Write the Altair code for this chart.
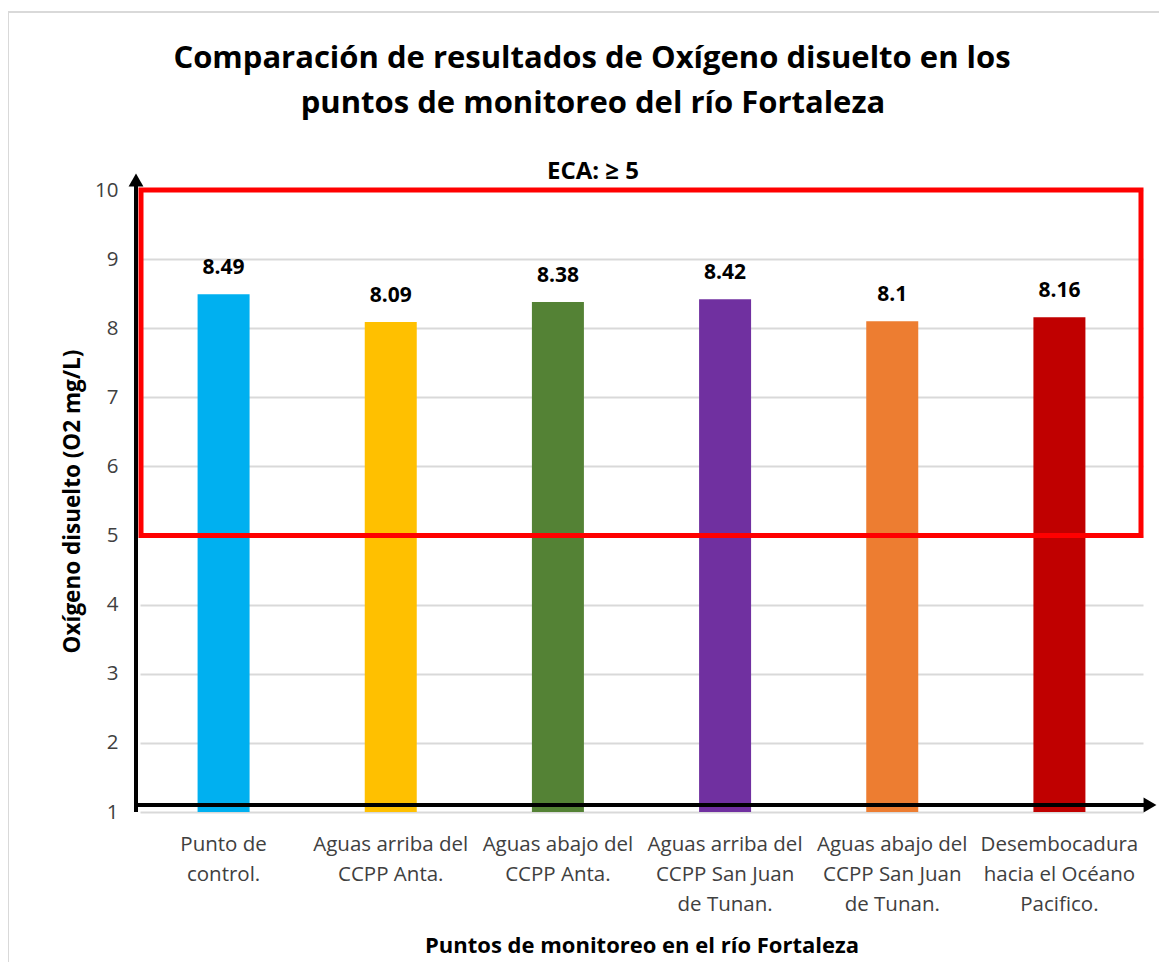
import altair as alt
import pandas as pd

title_lines = ["Comparación de resultados de Oxígeno disuelto en los", "puntos de monitoreo del río Fortaleza"]
subtitle = "ECA: ≥ 5"
categories = [
    "Punto de|control.",
    "Aguas arriba del|CCPP Anta.",
    "Aguas abajo del|CCPP Anta.",
    "Aguas arriba del|CCPP San Juan|de Tunan.",
    "Aguas abajo del|CCPP San Juan|de Tunan.",
    "Desembocadura|hacia el Océano|Pacifico.",
]
values = [8.49, 8.09, 8.38, 8.42, 8.1, 8.16]
colors = ["#00b0f0", "#ffc000", "#548235", "#7030a0", "#ed7d31", "#c00000"]
eca_min = 5
eca_max = 10
y_ticks = [1, 2, 3, 4, 5, 6, 7, 8, 9, 10]

df = pd.DataFrame({"cat": categories, "value": values, "color": colors, "base": [1] * len(values)})

W, H = 1003, 622
FONT = "Open Sans"

xenc = alt.X(
    "cat:N",
    sort=categories,
    scale=alt.Scale(paddingInner=0.69, paddingOuter=0.345),
    axis=alt.Axis(
        title="Puntos de monitoreo en el río Fortaleza",
        titleFont=FONT, titleFontSize=22, titleFontWeight="bold", titleColor="#000000",
        titleY=133, titleBaseline="middle",
        labelExpr="split(datum.value, '|')",
        labelFont=FONT, labelFontSize=20.5, labelColor="#404040", labelLineHeight=30,
        labelAngle=0, labelPadding=22, labelBaseline="top",
        ticks=False, domain=False, grid=False,
    ),
)
yscale = alt.Scale(domain=[1, 10], zero=False, nice=False)
yenc = alt.Y(
    "value:Q",
    scale=yscale,
    axis=alt.Axis(
        values=y_ticks,
        format="d",
        title="Oxígeno disuelto (O2 mg/L)",
        titleFont=FONT, titleFontSize=22.5, titleFontWeight="bold", titleColor="#000000",
        titleX=-68, titleY=311, titleBaseline="middle", titleAlign="center",
        labelFont=FONT, labelFontSize=20.5, labelColor="#404040", labelPadding=22,
        ticks=False, domain=False,
        grid=True, gridColor="#d9d9d9", gridWidth=2,
    ),
)

base = alt.Chart(df)

bars = base.mark_bar(size=52).encode(
    x=xenc,
    y=yenc,
    y2="base:Q",
    color=alt.Color("color:N", scale=None),
)

labels = base.mark_text(dy=-26, font=FONT, fontSize=21, fontWeight="bold", color="#000000").encode(
    x=alt.X("cat:N", sort=categories),
    y=alt.Y("value:Q", scale=yscale),
    text=alt.Text("value:Q"),
)

eca_df = pd.DataFrame({"lo": [eca_min], "hi": [eca_max]})
eca_box = alt.Chart(eca_df).mark_rect(fill=None, stroke="#ff0000", strokeWidth=5).encode(
    x=alt.value(1), x2=alt.value(W - 2),
    y=alt.Y("hi:Q", scale=yscale), y2="lo:Q",
)

axis_df = pd.DataFrame({"k": [0]})
yaxis_line = alt.Chart(axis_df).mark_rule(color="#000000", strokeWidth=4).encode(
    x=alt.value(-4), y=alt.value(-8), y2=alt.value(H),
)
xaxis_line = alt.Chart(axis_df).mark_rule(color="#000000", strokeWidth=4).encode(
    x=alt.value(-6), x2=alt.value(1008), y=alt.value(H - 7),
)
arrow_up = alt.Chart(axis_df).mark_point(shape="triangle-up", filled=True, color="#000000", size=220, opacity=1).encode(
    x=alt.value(-4), y=alt.value(-10),
)
arrow_right = alt.Chart(axis_df).mark_point(shape="triangle-right", filled=True, color="#000000", size=220, opacity=1).encode(
    x=alt.value(1010), y=alt.value(H - 7),
)
frame = alt.Chart(axis_df).mark_rect(fill=None, stroke="#d9d9d9", strokeWidth=2).encode(
    x=alt.value(-132), x2=alt.value(1040), y=alt.value(-178), y2=alt.value(800),
)

title1 = alt.Chart(pd.DataFrame({"t": [title_lines[0]]})).mark_text(
    font=FONT, fontSize=31, fontWeight="bold", color="#000000", align="center", baseline="middle"
).encode(x=alt.value(452), y=alt.value(-131), text="t:N")
title2 = alt.Chart(pd.DataFrame({"t": [title_lines[1]]})).mark_text(
    font=FONT, fontSize=31, fontWeight="bold", color="#000000", align="center", baseline="middle"
).encode(x=alt.value(453), y=alt.value(-86), text="t:N")
sub = alt.Chart(pd.DataFrame({"t": [subtitle]})).mark_text(
    font=FONT, fontSize=24, fontWeight="bold", color="#000000", align="center", baseline="middle"
).encode(x=alt.value(453), y=alt.value(-18), text="t:N")

chart = alt.layer(frame, bars, eca_box, labels, yaxis_line, xaxis_line, arrow_up, arrow_right, title1, title2, sub).properties(
    width=W,
    height=H,
    autosize=alt.AutoSizeParams(type="none"),
    padding={"left": 132, "top": 182, "right": 16, "bottom": 150},
).configure_view(stroke=None)

chart.save("out.html", embed_options={"renderer": "svg", "actions": False})
